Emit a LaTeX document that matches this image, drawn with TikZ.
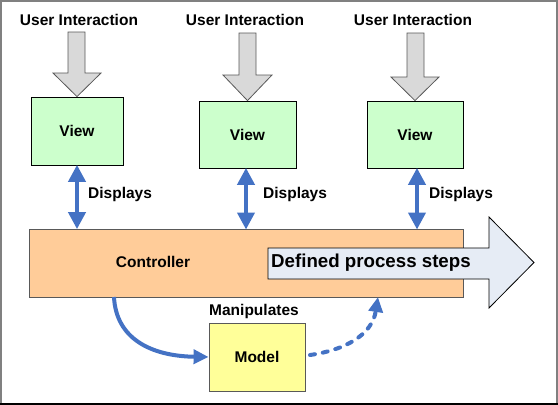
\documentclass[tikz,border=0pt]{standalone}
\usepackage{fontspec}
\setmainfont{Liberation Sans}
\usetikzlibrary{arrows.meta}
\definecolor{viewgreen}{HTML}{CCFFCC}
\definecolor{ctrlorange}{HTML}{FFCC99}
\definecolor{modelyellow}{HTML}{FFFF99}
\definecolor{stepblue}{HTML}{E6ECF5}
\definecolor{linkblue}{HTML}{4472C4}
\definecolor{uigray}{HTML}{D9D9D9}
\definecolor{uiedge}{HTML}{595959}
\definecolor{frame}{HTML}{808080}
\tikzset{
  lbl/.style={font=\fontsize{15.5}{18}\selectfont\bfseries, inner sep=0pt},
  viewbox/.style={draw=black, line width=0.8pt, fill=viewgreen, inner sep=0pt},
  uiarrow/.style={draw=uiedge, line width=0.8pt, fill=uigray},
  dispArrow/.style={draw=linkblue, line width=4pt, {Triangle[width=17pt,length=17pt]}-{Triangle[width=17pt,length=17pt]}, shorten <=-0.5pt, shorten >=-0.5pt},
  linkArrow/.style={draw=linkblue, line width=4pt, -{Triangle[width=14pt,length=15pt]}},
}
\begin{document}
\begin{tikzpicture}[x=1pt,y=-1pt]
\useasboundingbox (0,0) rectangle (558,405);
\fill[white] (0,0) rectangle (558,405);
% frame
\draw[frame, line width=2pt] (1,404) -- (1,0.5) -- (556.5,0.5) -- (556.5,404);
\draw[black, line width=2pt] (0,403.5) -- (558,403.5);

% views
\node[viewbox, minimum width=92pt, minimum height=68pt] (v1) at (77,131) {};
\node[viewbox, minimum width=97pt, minimum height=67pt] (v2) at (247.5,134.5) {};
\node[viewbox, minimum width=96pt, minimum height=67pt] (v3) at (415,134.5) {};
\node[lbl] (v1t) at (v1.center) {View};
\node[lbl] (v2t) at (v2.center) {View};
\node[lbl] (v3t) at (v3.center) {View};

% user interaction labels
\node[lbl] (u1) at (79,20) {User Interaction};
\node[lbl] (u2) at (245,20) {User Interaction};
\node[lbl] (u3) at (413,20) {User Interaction};

% gray arrows
\draw[uiarrow] (68,32) -- (85,32) -- (85,73) -- (101,73) -- (v1.north) -- (53,73) -- (68,73) -- cycle;
\draw[uiarrow] (239,33) -- (256,33) -- (256,75) -- (272,75) -- (v2.north) -- (223,75) -- (239,75) -- cycle;
\draw[uiarrow] (407,33) -- (424,33) -- (424,77) -- (439,77) -- (v3.north) -- (391,77) -- (407,77) -- cycle;

% controller
\node[draw=uiedge, line width=0.8pt, fill=ctrlorange, minimum width=434pt, minimum height=68pt, inner sep=0pt] (ctrl) at (246,263) {};
\node[lbl] (ctrlt) at (153,262) {Controller};

% process arrow
\draw[black, line width=0.8pt, fill=stepblue] (268,248) -- (489,248) -- (489,217) -- (534,262.5) -- (489,308) -- (489,279) -- (268,279) -- cycle;
\node[lbl, font=\fontsize{18.7}{22}\selectfont\bfseries, anchor=west] (steps) at (271,263) {Defined process steps};

% displays arrows
\draw[dispArrow] (v1.south) -- (v1.south |- ctrl.north);
\draw[dispArrow] (v2.south -| 246,0) -- (246,229);
\draw[dispArrow] (v3.south -| 417,0) -- (417,229);
\node[lbl, anchor=west] (d1) at (88,194) {Displays};
\node[lbl, anchor=west] (d2) at (263,194) {Displays};
\node[lbl, anchor=west] (d3) at (429,194) {Displays};

% model
\node[draw=uiedge, line width=0.8pt, fill=modelyellow, minimum width=96pt, minimum height=68pt, inner sep=0pt] (model) at (257,357) {};
\node[lbl] (modelt) at (model.center) {Model};
\node[lbl] (manip) at (254,311) {Manipulates};

% links
\coordinate (cs) at (114,297);
\coordinate (ce) at (378,297);
\draw[linkArrow] (cs) .. controls (116,338) and (150,356) .. (model.west);
\draw[linkArrow, dash pattern=on 5pt off 8pt, line cap=round] (310,355) .. controls (345,350) and (372,335) .. (ce);
\end{tikzpicture}
\end{document}
